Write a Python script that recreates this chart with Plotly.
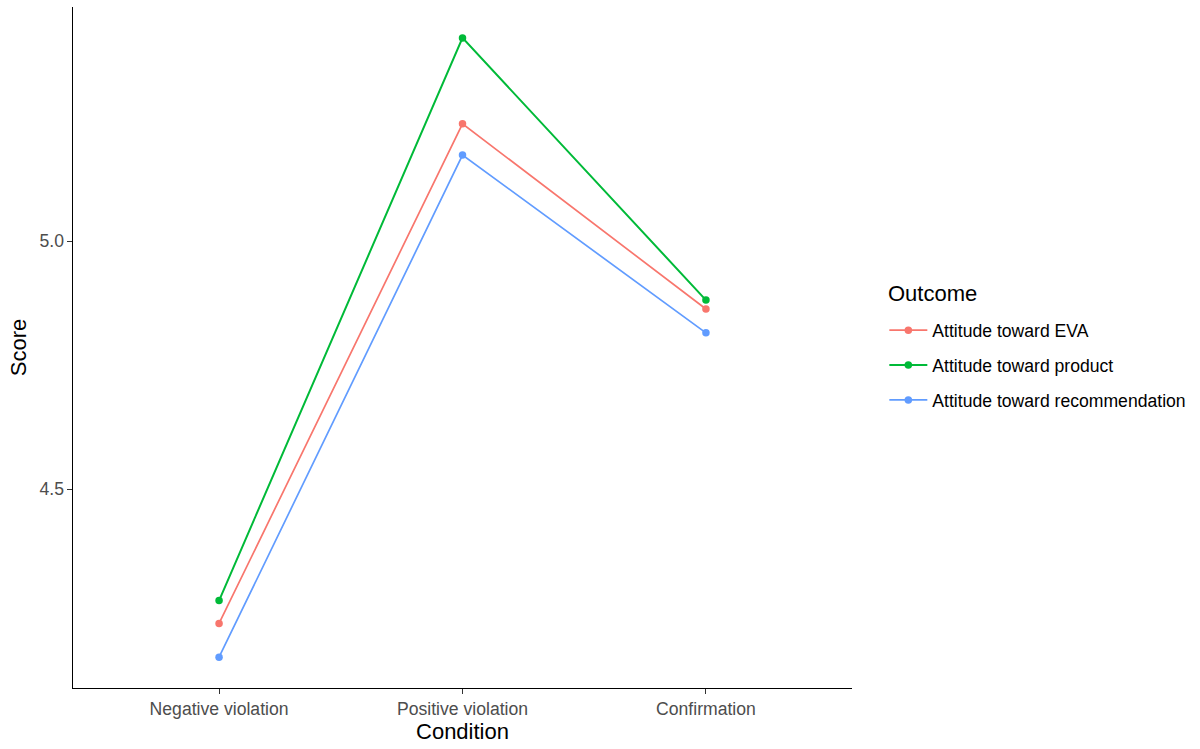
import plotly.graph_objects as go

conditions = ["Negative violation", "Positive violation", "Confirmation"]
outcomes = ["Attitude toward EVA", "Attitude toward product", "Attitude toward recommendation"]
eva = [4.230, 5.236, 4.863]
product = [4.276, 5.409, 4.881]
recommendation = [4.162, 5.173, 4.815]
colors = ["#F8766D", "#00BA38", "#619CFF"]
y_ticks = [4.5, 5.0]

series = [eva, product, recommendation]
widths = [1.7, 2.0, 1.7]

fig = go.Figure()
for name, vals, col, w in zip(outcomes, series, colors, widths):
    fig.add_trace(go.Scatter(
        x=conditions, y=vals, mode="lines+markers", name=name,
        legendgroup=name,
        line=dict(color=col, width=w),
        marker=dict(color=col, size=7.5),
    ))

fig.update_layout(
    width=1200, height=749,
    paper_bgcolor="white", plot_bgcolor="white",
    margin=dict(l=72.7, r=348.3, t=6.7, b=61.3),
    font=dict(family="Liberation Sans, Arial, sans-serif", color="black"),
    showlegend=True,
    legend=dict(
        font=dict(size=17.6, color="black"),
        x=1.0415, xanchor="left", y=0.4739, yanchor="middle",
        traceorder="grouped", tracegroupgap=9,
        itemwidth=38,
        bgcolor="rgba(0,0,0,0)",
    ),
    annotations=[dict(
        text="Outcome", xref="paper", yref="paper",
        x=1.044, y=0.5796, xanchor="left", yanchor="middle",
        showarrow=False, font=dict(size=22, color="black"),
    )],
    xaxis=dict(
        type="category", categoryorder="array", categoryarray=conditions,
        range=[-0.6, 2.6],
        showline=True, linecolor="black", linewidth=1.1,
        ticks="outside", ticklen=4.5, tickcolor="#333333", tickwidth=1.1,
        tickfont=dict(size=17.6, color="#4D4D4D"),
        showgrid=False, zeroline=False,
        title=dict(text="Condition", font=dict(size=22, color="black"), standoff=4),
    ),
    yaxis=dict(
        range=[4.0999, 5.4712],
        tickvals=y_ticks, ticktext=[f"{v:.1f}" for v in y_ticks],
        showline=True, linecolor="black", linewidth=1.1,
        ticks="outside", ticklen=4.5, tickcolor="#333333", tickwidth=1.1,
        tickfont=dict(size=17.6, color="#4D4D4D"),
        showgrid=False, zeroline=False,
        title=dict(text="Score", font=dict(size=22, color="black"), standoff=6),
    ),
)

fig.write_html("out.html", config={"displayModeBar": False},
               post_script="document.body.style.margin='0';")
